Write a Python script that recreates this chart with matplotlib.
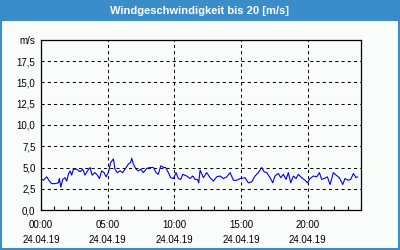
import matplotlib.pyplot as plt
from matplotlib.patches import Rectangle
from matplotlib.ticker import MultipleLocator

# --- data (hours since 24.04.19 00:00, wind speed in m/s) ---
hours = [0, 0.18, 0.43, 0.63, 0.8, 1.05, 1.3, 1.38, 1.48, 1.63, 1.8, 1.93,
         2.05, 2.18, 2.3, 2.43, 2.68, 2.93, 3.13, 3.3, 3.48, 3.68, 3.83,
         4.05, 4.23, 4.38, 4.55, 4.73, 4.88, 5.05, 5.23, 5.43, 5.55, 5.73,
         5.93, 6.13, 6.3, 6.55, 6.73, 6.8, 6.93, 7.13, 7.3, 7.48, 7.68,
         7.93, 8.18, 8.43, 8.63, 8.8, 8.98, 9.18, 9.35, 9.55, 9.73, 9.93,
         10.13, 10.3, 10.48, 10.63, 10.93, 11.18, 11.38, 11.55, 11.73, 11.83,
         11.93, 12.18, 12.43, 12.68, 12.93, 13.18, 13.43, 13.68, 13.93,
         14.18, 14.43, 14.68, 14.93, 15.3, 15.55, 15.8, 16.05, 16.3, 16.55,
         16.73, 16.93, 17.18, 17.38, 17.55, 17.8, 17.98, 18.18, 18.38, 18.55,
         18.73, 18.93, 19.13, 19.3, 19.55, 19.8, 19.98, 20.18, 20.43, 20.68,
         20.88, 21.05, 21.23, 21.48, 21.68, 21.93, 22.13, 22.38, 22.63, 22.8,
         23.05, 23.23, 23.43, 23.63, 23.73]
speed = [3.7, 3.5, 3.9, 3.4, 3.1, 3.1, 3.2, 3.7, 2.7, 3.6, 3.8, 3.4,
         4.2, 4.6, 4.1, 4.8, 4.8, 4.5, 4.8, 4.1, 4.6, 5.0, 4.1,
         4.4, 4.1, 3.7, 4.6, 4.4, 3.9, 4.4, 5.6, 6.0, 4.8, 4.4,
         4.6, 4.4, 4.8, 5.4, 5.6, 6.1, 5.4, 4.8, 4.6, 4.8, 4.4,
         4.9, 5.0, 5.0, 4.4, 4.2, 5.2, 5.0, 5.0, 4.4, 3.8, 3.7,
         4.4, 3.7, 3.6, 4.2, 4.0, 3.7, 4.0, 3.6, 3.6, 3.2,
         4.7, 3.8, 4.4, 3.8, 3.4, 3.9, 4.0, 3.7, 3.9,
         4.4, 3.5, 3.5, 3.7, 3.8, 3.2, 3.3, 4.0, 4.4, 5.0,
         4.5, 4.4, 3.8, 3.2, 4.0, 4.3, 3.8, 4.2, 3.6, 4.4,
         3.2, 4.0, 3.7, 4.2, 3.8, 3.5, 3.2, 3.7, 4.0, 3.9,
         4.4, 3.6, 3.7, 3.9, 3.0, 4.4, 4.1, 3.8, 3.0, 3.7,
         3.5, 3.6, 4.3, 3.8, 3.9]

x_ticks = [0, 5, 10, 15, 20]
x_labels = ["00:00\n24.04.19", "05:00\n24.04.19", "10:00\n24.04.19",
            "15:00\n24.04.19", "20:00\n24.04.19"]
y_ticks = [0, 2.5, 5, 7.5, 10, 12.5, 15, 17.5, 20]
y_labels = ["0,0", "2,5", "5,0", "7,5", "10,0", "12,5", "15,0", "17,5", "m/s"]
title = "Windgeschwindigkeit bis 20 [m/s]"

BLUE = "#3A8DC9"
BG = "#F9FDF9"
FONT = "Liberation Sans"

fig = plt.figure(figsize=(4, 2.5), dpi=100, facecolor=BG)

# title bar + frame
fig.patches.append(Rectangle((0, 1 - 21 / 250), 1, 21 / 250, transform=fig.transFigure,
                             facecolor=BLUE, edgecolor="none", zorder=0))
fig.patches.append(Rectangle((0.0025, 0.004), 0.995, 0.99, transform=fig.transFigure,
                             facecolor="none", edgecolor=BLUE, linewidth=1.5, zorder=1))
fig.text(0.5, 1 - 10.5 / 250, title, color="white", ha="center", va="center",
         fontsize=8, fontweight="bold", family=FONT)

ax = fig.add_axes([41 / 400, 40 / 250, 320 / 400, 170 / 250], facecolor=BG)
ax.plot(hours, speed, color="#0000F0", linewidth=0.8)

ax.set_xlim(0, 24)
ax.set_ylim(0, 20)
ax.set_xticks(x_ticks)
ax.set_xticklabels(x_labels, family=FONT, fontsize=7, linespacing=1.7)
ax.xaxis.set_minor_locator(MultipleLocator(1))
ax.set_yticks(y_ticks)
ax.set_yticklabels(y_labels, family=FONT, fontsize=7)

ax.tick_params(axis="x", which="both", direction="in", length=3, width=0.8, pad=7)
ax.tick_params(axis="y", length=0, pad=4)

ax.grid(True, color="black", linestyle=(0, (3, 3)), linewidth=0.75)
for s in ax.spines.values():
    s.set_linewidth(0.9)
    s.set_color("black")

fig.savefig("out.png", dpi=100, facecolor=BG)
